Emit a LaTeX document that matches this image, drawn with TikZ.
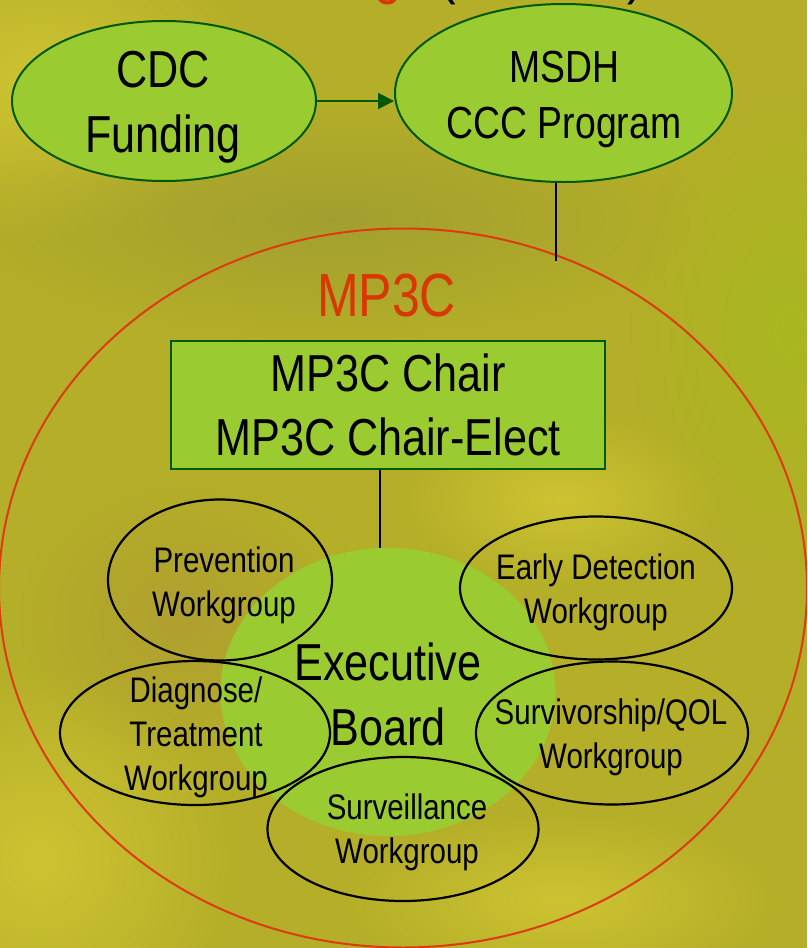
\documentclass[tikz,border=0pt]{standalone}
\usepackage{fontspec}
\setmainfont{Liberation Sans}
\newfontfamily\nf[FakeStretch=0.83]{Liberation Sans}
\newfontfamily\nfr[FakeStretch=0.82]{Liberation Sans}
\usetikzlibrary{shapes.geometric,arrows.meta,fadings}
\tikzfading[name=blobfade, inner color=transparent!0, outer color=transparent!100]
\definecolor{bgbase}{RGB}{180,174,40}
\definecolor{bgyel}{RGB}{206,196,50}
\definecolor{bgdark}{RGB}{158,156,50}
\definecolor{bggrn}{RGB}{168,184,32}
\definecolor{bgbrown}{RGB}{176,160,48}
\definecolor{lgreen}{RGB}{154,204,50}
\definecolor{dgreen}{RGB}{0,88,0}
\definecolor{redline}{RGB}{222,58,16}
\definecolor{redtext}{RGB}{216,56,0}
\tikzset{
  bub/.style={ellipse, draw=dgreen, line width=2pt, fill=lgreen, inner sep=0pt},
  wg/.style={ellipse, draw=black, line width=2.2pt, inner sep=0pt},
  txt/.style={align=center, inner sep=0pt, text=black},
  bigf/.style={font=\nf\fontsize{52}{65}\selectfont},
  wgf/.style={font=\nf\fontsize{35.5}{44}\selectfont},
  conn/.style={draw=black, line width=2pt},
  blob/.style={path fading=blobfade},
}
\begin{document}
\begin{tikzpicture}[x=1pt,y=-1pt]
\useasboundingbox (0,0) rectangle (807,948);
\clip (0,0) rectangle (807,948);
% background
\fill[bgbase] (0,0) rectangle (807,948);
\fill[bgyel, blob] (40,80) ellipse (220 and 160);
\fill[bgdark, blob, opacity=0.8] (330,220) ellipse (380 and 120);
\fill[bggrn, blob] (790,330) ellipse (160 and 240);
\fill[bgyel, blob] (40,860) ellipse (200 and 200);
\fill[bgyel, blob] (560,500) ellipse (160 and 90);
\fill[bgbrown, blob] (180,620) ellipse (160 and 140);
\fill[bgyel, blob] (560,900) ellipse (220 and 90);
% cut-off title remnants
\node[anchor=base, inner sep=0pt, text=redtext, font=\nf\fontsize{60}{72}\selectfont] (tg) at (388,-8) {g};
\node[anchor=base, inner sep=0pt, font=\nf\fontsize{60}{72}\selectfont] (tlp) at (448,-8) {(};
\node[anchor=base, inner sep=0pt, font=\nf\fontsize{60}{72}\selectfont] (trp) at (636,-8) {)};
% top bubbles
\node[bub, minimum width=304pt, minimum height=160pt] (cdc) at (164,101) {};
\node[bub, minimum width=337pt, minimum height=178pt] (msdh) at (563.5,93) {};
\node[txt, bigf] (cdct) at (163,107.5) {CDC\\Funding};
\node[txt, font=\nf\fontsize{45}{56}\selectfont] (msdht) at (564,99) {MSDH\\CCC Program};
\draw[dgreen, line width=2pt, -{Triangle[length=16pt,width=16pt]}] (cdc.east) -- (cdc.east -| msdh.west);
% MP3C big ellipse
\node[ellipse, draw=redline, line width=2pt, minimum width=808pt, minimum height=719pt, inner sep=0pt] (mp3c) at (403,588) {};
\coordinate (mx) at (556,261);
\draw[conn] (msdh.south -| mx) -- (mx);
\node[anchor=base, inner sep=0pt, text=redtext, font=\nfr\fontsize{61}{72}\selectfont] (mp3ct) at (386.5,316) {MP3C};
% chair box
\node[draw=dgreen, line width=2pt, fill=lgreen, minimum width=434pt, minimum height=128pt, inner sep=0pt, align=center, font=\nf\fontsize{52}{64}\selectfont] (chair) at (388,405) {MP3C Chair\\MP3C Chair-Elect};
% executive board
\node[ellipse, fill=lgreen, minimum width=335pt, minimum height=288pt, inner sep=0pt] (exec) at (388,692) {};
\coordinate (cx) at (380,0);
\draw[conn] (chair.south -| cx) -- (exec.north -| cx);
% workgroups
\node[wg, minimum width=224pt, minimum height=161pt] (prev) at (220,580) {};
\node[wg, minimum width=272pt, minimum height=143pt] (early) at (596,588) {};
\node[wg, minimum width=270pt, minimum height=144pt] (diag) at (195,733) {};
\node[wg, minimum width=272pt, minimum height=143pt] (surv) at (612,733) {};
\node[wg, minimum width=271pt, minimum height=144pt] (sveil) at (403,829) {};
% texts
\node[txt, bigf] (exect) at (388,694) {Executive\\Board};
\node[txt, wgf] (prevt) at (224,585.7) {Prevention\\Workgroup};
\node[txt, wgf] (earlyt) at (596,592.5) {Early Detection\\Workgroup};
\node[txt, wgf] (diagt) at (196,737) {Diagnose/\\Treatment\\Workgroup};
\node[txt, wgf] (survt) at (611,737) {Survivorship/QOL\\Workgroup};
\node[txt, wgf] (sveilt) at (407,832.5) {Surveillance\\Workgroup};
\end{tikzpicture}
\end{document}
